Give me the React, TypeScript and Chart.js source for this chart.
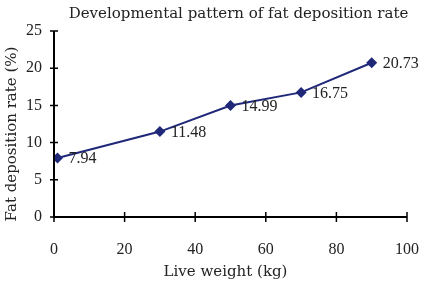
import React, { useEffect, useRef } from "react";
import { Chart, registerables } from "chart.js";

Chart.register(...registerables);

// Live weight (kg) and fat deposition rate (%)
const weights = [1, 30, 50, 70, 90];
const fatRates = [7.94, 11.48, 14.99, 16.75, 20.73];
const xTicks = [0, 20, 40, 60, 80, 100];
const yTicks = [0, 5, 10, 15, 20, 25];

const titleText = "Developmental pattern of fat deposition rate";
const xTitle = "Live weight (kg)";
const yTitle = "Fat deposition rate (%)";

const NUM_FONT = "'Liberation Serif', serif";
const TEXT_FONT = "'DejaVu Serif', serif";
const LINE_COLOR = "#1f2878";
const TEXT_COLOR = "#222";

// Ticks that cross the axis lines, the titles and the point labels
const decorations = {
  id: "decorations",
  afterDraw(chart: any) {
    const { ctx, chartArea, scales } = chart;
    const xs = scales.x;
    const ys = scales.y;
    ctx.save();
    ctx.strokeStyle = "#000";
    ctx.lineWidth = 2;
    ctx.beginPath();
    ctx.moveTo(chartArea.left, chartArea.top);
    ctx.lineTo(chartArea.left, chartArea.bottom);
    ctx.lineTo(chartArea.right, chartArea.bottom);
    ctx.stroke();
    ctx.lineWidth = 1.5;
    ctx.beginPath();
    for (const v of yTicks) {
      const y = ys.getPixelForValue(v);
      ctx.moveTo(chartArea.left - 4, y);
      ctx.lineTo(chartArea.left + 4, y);
    }
    for (const v of xTicks) {
      const x = xs.getPixelForValue(v);
      ctx.moveTo(x, chartArea.bottom - 5);
      ctx.lineTo(x, chartArea.bottom + 5);
    }
    ctx.stroke();

    ctx.fillStyle = TEXT_COLOR;
    ctx.font = `15px ${TEXT_FONT}`;
    ctx.textAlign = "center";
    ctx.textBaseline = "middle";
    ctx.fillText(titleText, (chartArea.left + chartArea.right) / 2 + 8, 14);
    ctx.fillText(xTitle, (chartArea.left + chartArea.right) / 2 - 5, 272);

    ctx.save();
    ctx.translate(12, (chartArea.top + chartArea.bottom) / 2 + 10);
    ctx.rotate(-Math.PI / 2);
    ctx.fillText(yTitle, 0, 0);
    ctx.restore();

    ctx.font = `16px ${NUM_FONT}`;
    ctx.textAlign = "left";
    const meta = chart.getDatasetMeta(0);
    meta.data.forEach((pt: any, i: number) => {
      ctx.fillText(fatRates[i].toFixed(2), pt.x + 11, pt.y + 1);
    });
    ctx.restore();
  },
};

export default function App() {
  const canvasRef = useRef<HTMLCanvasElement>(null);

  useEffect(() => {
    document.body.style.margin = "0";
    const chart = new Chart(canvasRef.current!, {
      type: "scatter",
      data: {
        datasets: [
          {
            data: weights.map((w, i) => ({ x: w, y: fatRates[i] })),
            showLine: true,
            borderColor: LINE_COLOR,
            backgroundColor: LINE_COLOR,
            borderWidth: 2,
            pointStyle: "rectRot",
            pointRadius: 5.5,
            pointBorderWidth: 0,
          },
        ],
      },
      options: {
        animation: false,
        responsive: false,
        layout: { padding: { top: 31, right: 18, left: 0, bottom: 0 } },
        plugins: {
          legend: { display: false },
          tooltip: { enabled: false },
          title: { display: false },
        },
        scales: {
          x: {
            type: "linear",
            min: 0,
            max: 100,
            afterBuildTicks: (s: any) => {
              s.ticks = xTicks.map((v) => ({ value: v }));
            },
            afterFit: (s: any) => {
              s.height = 65;
              s.paddingLeft = 0;
              s.paddingRight = 0;
            },
            border: { display: false },
            grid: { display: false, drawTicks: false },
            ticks: {
              padding: 23,
              color: TEXT_COLOR,
              font: { family: NUM_FONT, size: 16 },
            },
            title: { display: false },
          },
          y: {
            type: "linear",
            min: 0,
            max: 25,
            afterBuildTicks: (s: any) => {
              s.ticks = yTicks.map((v) => ({ value: v }));
            },
            afterFit: (s: any) => {
              s.width = 54;
              s.paddingTop = 0;
              s.paddingBottom = 0;
            },
            border: { display: false },
            grid: { display: false, drawTicks: false },
            ticks: {
              padding: 12,
              color: TEXT_COLOR,
              font: { family: NUM_FONT, size: 16 },
            },
            title: { display: false },
          },
        },
      },
      plugins: [decorations],
    });
    return () => chart.destroy();
  }, []);

  return (
    <div style={{ width: 425, height: 282 }}>
      <canvas ref={canvasRef} width={425} height={282} style={{ display: "block" }} />
    </div>
  );
}
